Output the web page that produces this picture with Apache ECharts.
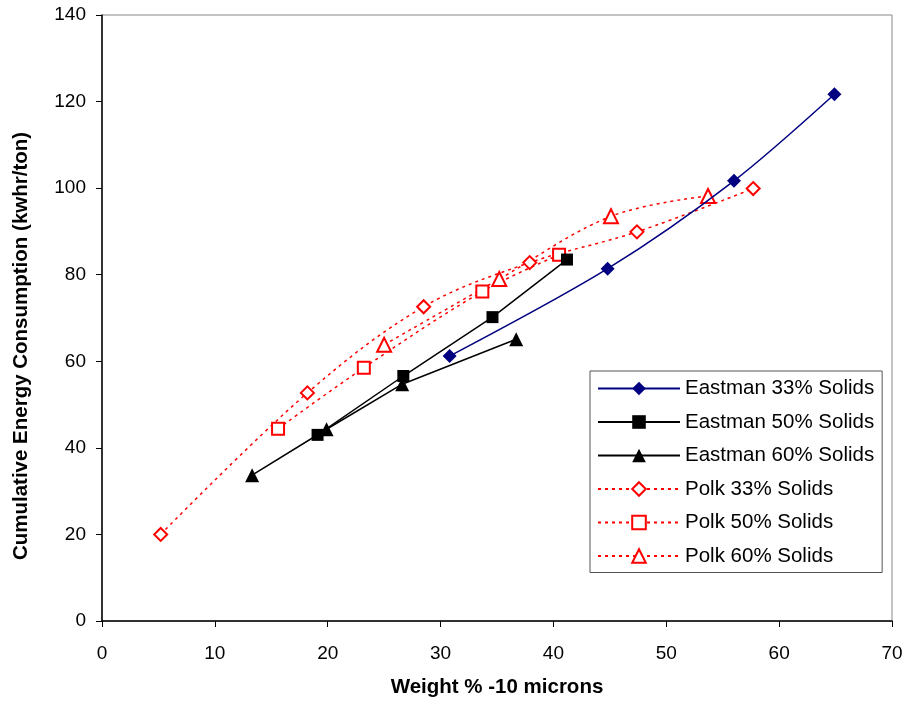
<!DOCTYPE html>
<html>
<head>
<meta charset="utf-8">
<script src="https://cdn.jsdelivr.net/npm/echarts@6/dist/echarts.min.js"></script>
<style>
  html, body { margin: 0; padding: 0; background: #fff; }
  #chart { width: 908px; height: 704px; }
</style>
</head>
<body>
<div id="chart"></div>
<script>
// values: [weight % -10 microns, kwhr/ton]
const eastman33 = [[30.8, 61.2], [44.8, 81.4], [56.0, 101.7], [64.9, 121.7]];
const eastman50 = [[19.1, 43.0], [26.7, 56.6], [34.6, 70.2], [41.2, 83.5]];
const eastman60 = [[13.3, 33.7], [19.9, 44.3], [26.6, 54.7], [36.7, 65.1]];
const polk33 = [[5.2, 20.0], [18.2, 52.7], [28.5, 72.6], [37.9, 82.8], [47.4, 89.9], [57.7, 99.9]];
const polk50 = [[15.6, 44.4], [23.2, 58.5], [33.7, 76.1], [40.5, 84.6]];
const polk60 = [[25.0, 63.8], [35.2, 79.0], [45.1, 93.5], [53.7, 98.2]];

const names = ['Eastman 33% Solids', 'Eastman 50% Solids', 'Eastman 60% Solids',
    'Polk 33% Solids', 'Polk 50% Solids', 'Polk 60% Solids'];

const font = 'Liberation Sans, Arial, sans-serif';

const chart = echarts.init(document.getElementById('chart'));

function solid(name, data, color, symbol, size, smooth) {
    return {
        name: name,
        type: 'line',
        data: data,
        smooth: smooth,
        symbol: symbol,
        symbolSize: size,
        showAllSymbol: true,
        lineStyle: { color: color, width: 1.5 },
        itemStyle: { color: color, borderWidth: 0 },
        emphasis: { disabled: true },
        z: 3
    };
}

function dashed(name, data, symbol, size) {
    return {
        name: name,
        type: 'line',
        data: data,
        smooth: 0.35,
        symbol: symbol,
        symbolSize: size,
        showAllSymbol: true,
        lineStyle: { color: '#ff0000', width: 1.5, type: [3, 4] },
        itemStyle: { color: '#ff0000', borderColor: '#ff0000', borderWidth: 1.5 },
        emphasis: { disabled: true },
        z: 2
    };
}

let option = {
    backgroundColor: '#fff',
    animation: false,
    textStyle: { fontFamily: font },
    grid: {
        left: 102,
        right: 16,
        top: 15,
        bottom: 83,
        show: true,
        borderColor: '#888',
        borderWidth: 1
    },
    xAxis: {
        type: 'value',
        min: 0,
        max: 70,
        interval: 10,
        name: 'Weight % -10 microns',
        nameLocation: 'middle',
        nameGap: 56,
        nameTextStyle: { fontSize: 20.5, fontWeight: 'bold', color: '#000', fontFamily: font },
        axisLine: { lineStyle: { color: '#000', width: 1.5 } },
        axisTick: { show: true, inside: false, length: 6, lineStyle: { color: '#000' } },
        axisLabel: { fontSize: 19, color: '#000', margin: 23, fontFamily: font },
        splitLine: { show: false }
    },
    yAxis: {
        type: 'value',
        min: 0,
        max: 140,
        interval: 20,
        name: 'Cumulative Energy Consumption (kwhr/ton)',
        nameLocation: 'middle',
        nameGap: 70,
        nameTextStyle: {
            fontSize: 20.5, fontWeight: 'bold', color: '#000', fontFamily: font,
            padding: [0, 56, 0, 0]
        },
        axisLine: { show: true, lineStyle: { color: '#000', width: 1.5 } },
        axisTick: { show: true, inside: false, length: 6, lineStyle: { color: '#000' } },
        axisLabel: { fontSize: 19, color: '#000', margin: 16, fontFamily: font },
        splitLine: { show: false }
    },
    legend: {
        orient: 'vertical',
        left: 590,
        top: 371,
        data: names,
        backgroundColor: '#fff',
        borderColor: '#555',
        borderWidth: 1,
        padding: [7, 8, 6, 7],
        itemWidth: 82,
        itemHeight: 17,
        itemGap: 12.5,
        selectedMode: false,
        textStyle: { fontSize: 20.5, color: '#000', fontFamily: font }
    },
    series: [
        solid(names[0], eastman33, '#000080', 'diamond', 14, 0.3),
        solid(names[1], eastman50, '#000', 'rect', 12, false),
        solid(names[2], eastman60, '#000', 'triangle', 14, false),
        dashed(names[3], polk33, 'emptyDiamond', 13),
        dashed(names[4], polk50, 'emptyRect', 12),
        dashed(names[5], polk60, 'emptyTriangle', 14)
    ]
};

chart.setOption(option);
</script>
</body>
</html>
